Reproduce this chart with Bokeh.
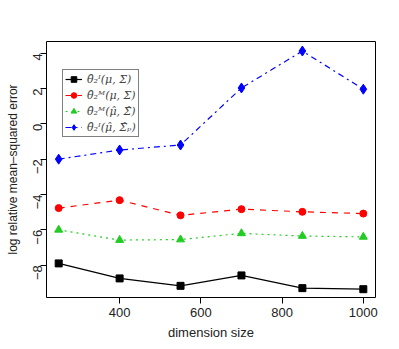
from bokeh.plotting import figure
from bokeh.models import Legend, LegendItem, Range1d, FixedTicker
from bokeh.embed import file_html
from bokeh.resources import INLINE
import math

dims = [250, 400, 550, 700, 850, 1000]
s_black = [-7.9, -8.75, -9.17, -8.58, -9.3, -9.36]
s_red = [-4.77, -4.32, -5.18, -4.83, -4.98, -5.08]
s_green = [-6.0, -6.58, -6.55, -6.2, -6.35, -6.4]
s_blue = [-2.0, -1.48, -1.2, 2.03, 4.12, 1.96]
labels = ["θ̂₂ᴵ(μ, Σ)", "θ̂₂ᴹ(μ, Σ)", "θ̂₂ᴹ(μ̂, Σ̂)", "θ̂₂ᴵ(μ̂, Σ̂ₚ)"]
xticks = [400, 600, 800, 1000]
yticks = [-8, -6, -4, -2, 0, 2, 4]

p = figure(width=399, height=349, output_backend="svg", toolbar_location=None,
           x_range=Range1d(220, 1030), y_range=Range1d(-9.83, 4.66),
           min_border_left=46, min_border_right=24, min_border_top=41, min_border_bottom=52)
p.grid.visible = False
p.outline_line_color = "black"
p.outline_line_width = 1
p.background_fill_color = "white"
p.border_fill_color = "white"

styles = [
    (s_black, "black", "solid", "square", 7),
    (s_red, "red", "dashed", "circle", 7),
    (s_green, "#22cc22", "dotted", "triangle", 8),
    (s_blue, "blue", "dashdot", "diamond", 10),
]
items = []
for (ys, col, dash, mk, sz), lab in zip(styles, labels):
    l = p.line(dims, ys, line_color=col, line_dash=dash, line_width=1.2)
    s = p.scatter(dims, ys, marker=mk, size=sz, fill_color=col, line_color=col)
    items.append(LegendItem(label=lab, renderers=[l, s]))

for ax in (p.xaxis[0], p.yaxis[0]):
    ax.axis_line_color = None
    ax.major_tick_line_color = "black"
    ax.major_tick_out = 6
    ax.major_tick_in = 0
    ax.minor_tick_line_color = None
    ax.major_label_text_font = "Liberation Sans"
    ax.major_label_text_font_size = "13px"
    ax.major_label_text_color = "#222222"
    ax.axis_label_text_font = "Liberation Sans"
    ax.axis_label_text_font_style = "normal"
    ax.axis_label_text_color = "#222222"

p.xaxis.ticker = FixedTicker(ticks=xticks)
p.yaxis.ticker = FixedTicker(ticks=yticks)
p.xaxis.axis_label = "dimension size"
p.xaxis.axis_label_text_font_size = "13px"
p.xaxis.major_label_standoff = 4
p.xaxis.axis_label_standoff = 5
p.yaxis.axis_label = "log relative mean\u2013squared error"
p.yaxis.axis_label_text_font_size = "12px"
p.yaxis.major_label_orientation = math.pi / 2
p.yaxis.major_label_standoff = 3
p.yaxis.axis_label_standoff = 6

legend = Legend(items=items, location=(16, 160))
legend.border_line_color = "black"
legend.border_line_width = 1
legend.background_fill_alpha = 1
legend.label_text_font = "DejaVu Serif"
legend.label_text_font_style = "italic"
legend.label_text_font_size = "11px"
legend.label_height = 14
legend.glyph_height = 14
legend.glyph_width = 17
legend.label_standoff = 5
legend.spacing = 2
legend.padding = 2
legend.margin = 0
p.add_layout(legend, "center")

open("out.html", "w").write(file_html(p, INLINE))
